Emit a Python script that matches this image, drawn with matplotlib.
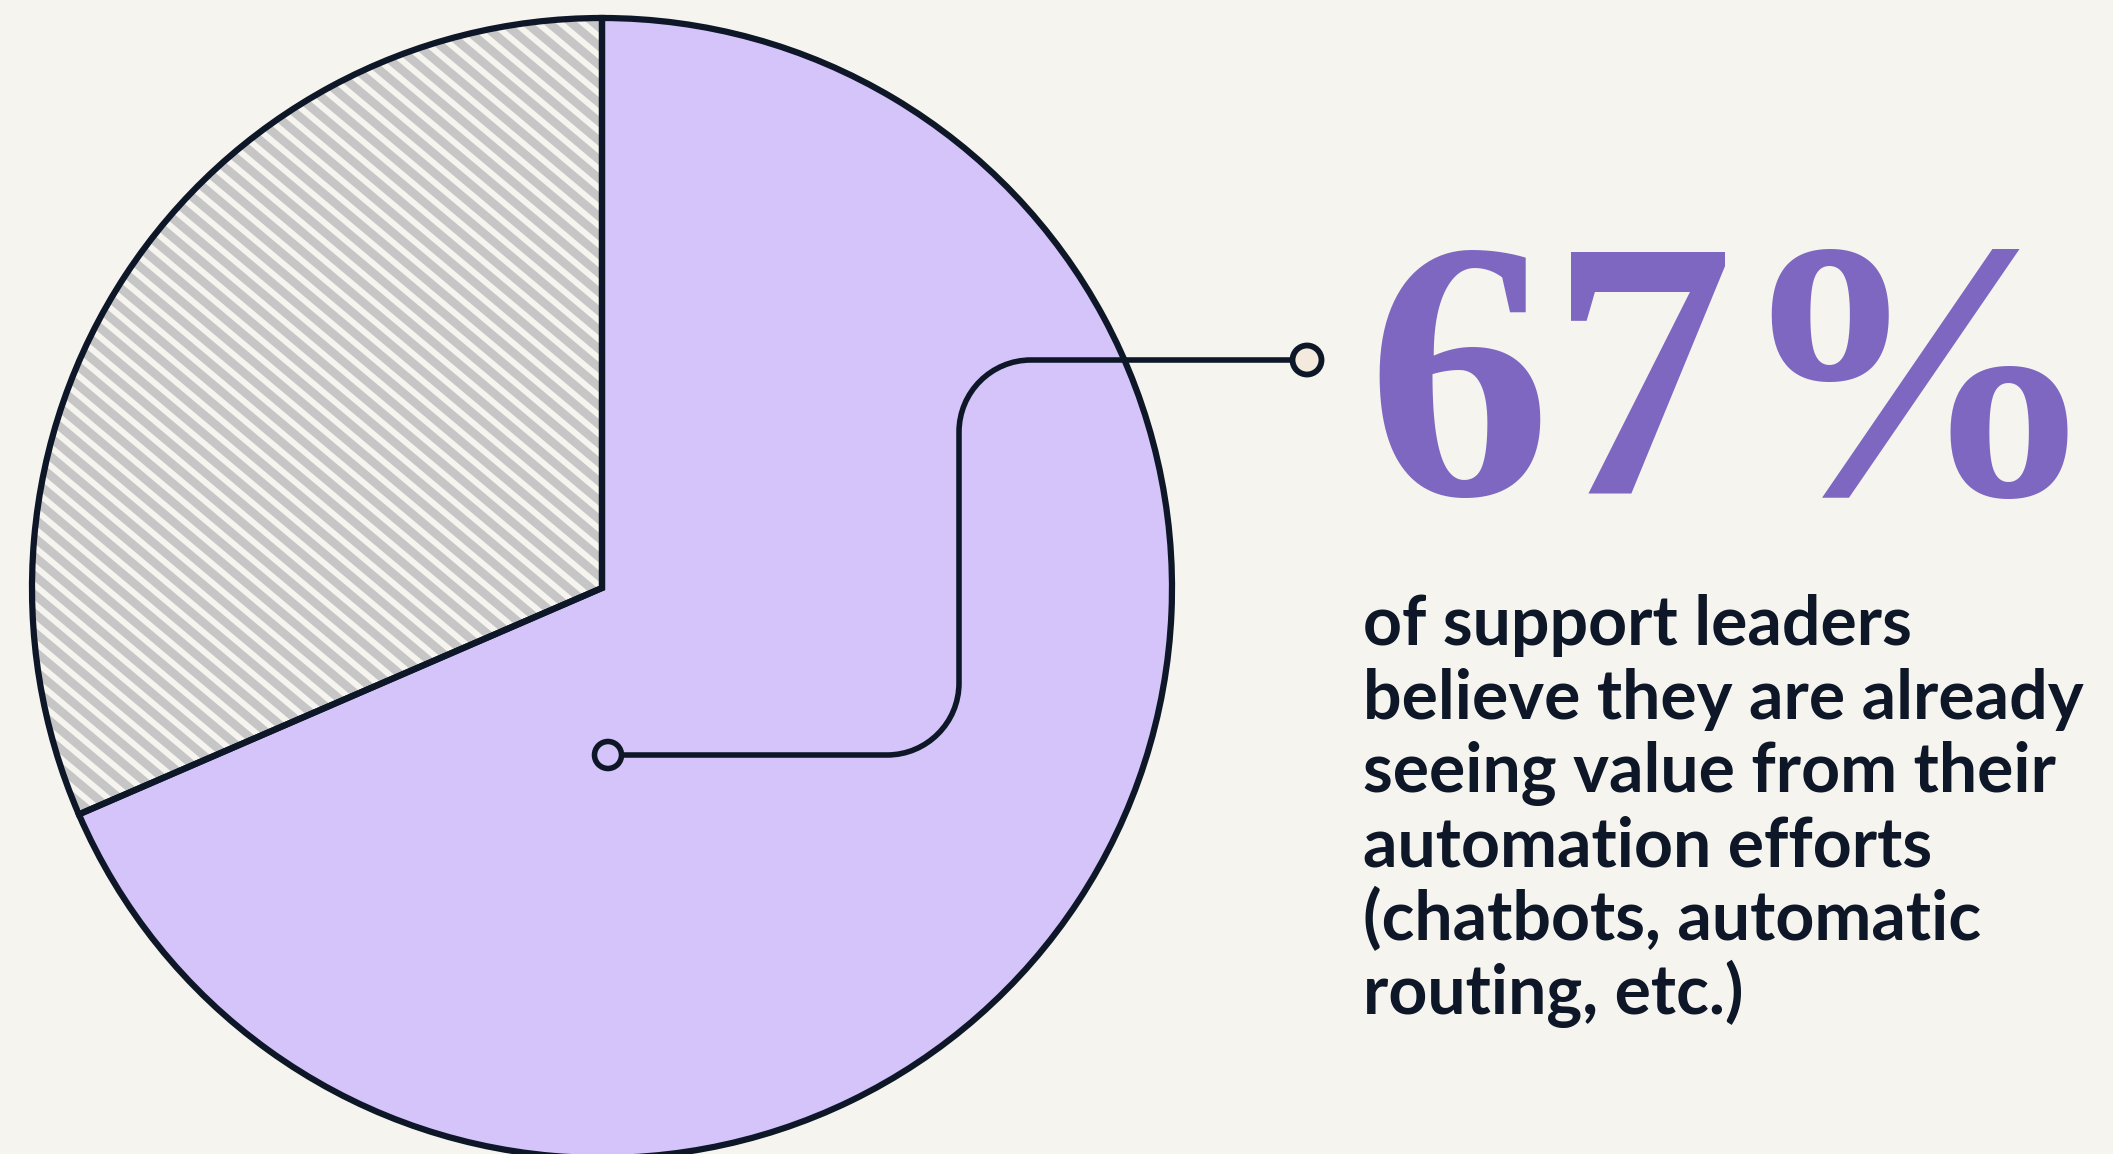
import numpy as np
import matplotlib
matplotlib.use("Agg")
import matplotlib.pyplot as plt
from matplotlib.patches import Circle, PathPatch
from matplotlib.path import Path
from matplotlib.collections import LineCollection

W, H = 2113, 1154

# data
labels = ['Seeing value', 'Not yet']
shares = [68.5, 31.5]   # as drawn in the picture (headline says 67%)
headline = '67%'
body_lines = [
    'of support leaders',
    'believe they are already',
    'seeing value from their',
    'automation efforts',
    '(chatbots, automatic',
    'routing, etc.)',
]

bg = '#F6F4EF'
lavender = '#D5C4FA'
grey = '#C6C6C6'
navy = '#0D1727'
purple = '#7E67C0'
cream = '#F3EADD'


def fy(y):
    # pixel row (from top) -> data y
    return H - y


fig = plt.figure(figsize=(W / 100, H / 100), dpi=100, facecolor=bg)
ax = fig.add_axes([0, 0, 1, 1])
ax.set_facecolor(bg)

cx, cy, r = 602, fy(588), 570

wedges, _ = ax.pie(shares, colors=[lavender, grey], center=(cx, cy), radius=r,
                   startangle=90, counterclock=False,
                   wedgeprops=dict(linewidth=0))

# white stripes on the grey slice
ang = np.deg2rad(40)
step = 14.5
d = np.array([np.cos(ang), -np.sin(ang)])   # stripe direction (down to the right)
n = np.array([np.sin(ang), np.cos(ang)])
segs = []
for k in np.arange(-90, 90):
    p = np.array([cx, cy]) + n * k * step
    segs.append([p - d * 1500, p + d * 1500])
stripes = LineCollection(segs, colors=bg, linewidths=4.3, zorder=2)
ax.add_collection(stripes)
stripes.set_clip_path(wedges[1])

# outline
outl, _ = ax.pie(shares, colors=['none', 'none'], center=(cx, cy), radius=r,
                 startangle=90, counterclock=False,
                 wedgeprops=dict(linewidth=4.5, edgecolor=navy, joinstyle='miter'))
for w in outl:
    w.set_zorder(3)

# callout connector with rounded corners
x0, y0 = 608, 755
x1 = 959
y1 = 360
x2 = 1307
rc = 72
kk = 0.5523 * rc
verts = [
    (x0, fy(y0)),
    (x1 - rc, fy(y0)),
    (x1 - rc + kk, fy(y0)), (x1, fy(y0 - rc + kk)), (x1, fy(y0 - rc)),
    (x1, fy(y1 + rc)),
    (x1, fy(y1 + rc - kk)), (x1 + rc - kk, fy(y1)), (x1 + rc, fy(y1)),
    (x2, fy(y1)),
]
codes = [Path.MOVETO, Path.LINETO,
         Path.CURVE4, Path.CURVE4, Path.CURVE4,
         Path.LINETO,
         Path.CURVE4, Path.CURVE4, Path.CURVE4,
         Path.LINETO]
ax.add_patch(PathPatch(Path(verts, codes), facecolor='none', edgecolor=navy,
                       linewidth=4.0, zorder=4, capstyle='butt'))
ax.add_patch(Circle((x0, fy(y0)), 13.5, facecolor=lavender, edgecolor=navy,
                    linewidth=4.0, zorder=5))
ax.add_patch(Circle((x2, fy(y1)), 14.5, facecolor=cream, edgecolor=navy,
                    linewidth=4.2, zorder=5))

ax.set_xlim(0, W)
ax.set_ylim(0, H)
ax.set_aspect('equal')
ax.axis('off')

ax.text(1366, fy(494), headline, fontfamily='Liberation Serif', fontweight='bold',
        fontsize=265, color=purple, ha='left', va='baseline', zorder=6)

base0 = 645
gap = 73.7
for i, line in enumerate(body_lines):
    ax.text(1363, fy(base0 + i * gap), line, fontfamily='Lato', fontweight='bold',
            fontsize=49, color=navy, ha='left', va='baseline', zorder=6)

fig.savefig('out.png', dpi=100, facecolor=bg)
